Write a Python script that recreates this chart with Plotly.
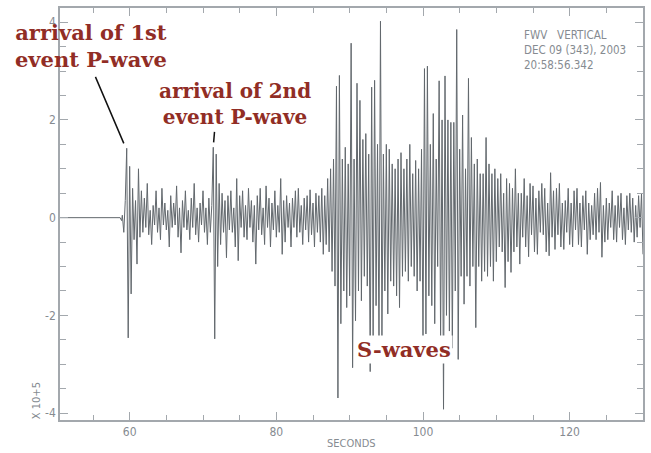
import plotly.graph_objects as go

# ---- data (amplitude in units of 1e5 counts, sampled every 0.2 s from 59.0 s) ----
quiet_t = [50.5, 58.7, 58.9]
quiet_v = [0.0, 0.0, -0.06]

t_start = 59.0
dt = 0.2
amp = [
    0.05, -0.30, 0.35, 1.42, -2.46,   # 59
    1.05, -1.56, 0.60, -0.45, 0.35,   # 60
    -0.95, 1.00, -0.40, 0.55, -0.30,  # 61
    0.40, -0.20, 0.70, -0.35, 0.15,   # 62
    -0.55, 0.25, -0.15, 0.55, -0.30,  # 63
    0.20, -0.45, 0.60, -0.15, 0.30,   # 64
    -0.25, 0.15, -0.60, 0.45, -0.20,  # 65
    0.30, -0.15, 0.65, -0.40, 0.20,   # 66
    -0.72, 0.35, -0.20, 0.55, -0.25,  # 67
    0.15, -0.45, 0.40, -0.20, 0.70,   # 68
    -0.35, 0.20, -0.50, 0.30, -0.15,  # 69
    0.55, -0.30, 0.20, -0.55, 0.40,   # 70
    -0.30, 0.25, 1.44, -2.48, 1.30,   # 71
    -1.00, 0.70, -0.55, 0.50, -0.30,  # 72
    0.35, -0.82, 0.45, -0.25, 0.55,   # 73
    -0.30, 0.20, -0.60, 0.80, -0.88,  # 74
    0.45, -0.20, 0.55, -0.40, 0.25,   # 75
    -0.45, 0.60, -0.20, 0.35, -0.50,  # 76
    0.25, -0.95, 0.45, -0.25, 0.60,   # 77
    -0.35, 0.20, -0.55, 0.65, -0.20,  # 78
    0.40, -0.60, 0.30, -0.25, 0.55,   # 79
    -0.40, 0.25, -0.30, 0.80, -0.75,  # 80
    0.35, -0.50, 0.45, -0.20, 0.30,   # 81
    -0.60, 0.40, -0.20, 0.55, -0.40,  # 82
    0.60, -0.30, 0.25, -0.55, 0.40,   # 83
    -0.25, 0.45, -0.50, 0.57, -0.35,  # 84
    0.30, -0.60, 0.50, -0.30, 0.45,   # 85
    -0.50, 0.60, -0.75, 0.45, -0.55,  # 86
    0.80, -0.70, 1.00, -1.10, 1.20,   # 87
    -1.40, 2.69, -3.69, 2.91, -2.17,  # 88
    1.20, -1.50, 1.44, -1.84, 1.10,   # 89
    -1.60, 3.57, -3.07, 1.20, -2.11,  # 90
    2.75, -1.50, 2.40, -1.70, 1.60,   # 91
    -1.20, 1.72, -1.40, 1.30, -3.15,  # 92
    2.67, -2.46, 2.81, -1.80, 1.50,   # 93
    -2.60, 4.02, -2.46, 1.30, -1.50,  # 94
    1.50, -1.97, 1.40, -1.30, 1.10,   # 95
    -1.40, 1.00, -1.60, 1.20, -1.84,  # 96
    1.33, -1.20, 1.00, -1.10, 1.20,   # 97
    -1.30, 1.50, -1.00, 0.90, -1.20,  # 98
    1.17, -1.50, 1.00, -1.30, 1.40,   # 99
    -2.52, 3.05, -2.38, 3.10, -1.60,  # 100
    1.50, -1.80, 2.13, -2.17, 1.20,   # 101
    -1.00, 2.80, -2.50, 2.00, -3.92,  # 102
    2.90, -2.00, 2.00, -2.32, 1.95,   # 103
    -2.67, 1.95, -1.50, 3.85, -2.90,  # 104
    1.40, -1.20, 2.10, -1.77, 1.00,   # 105
    -1.20, 2.85, -1.40, 1.64, -1.00,  # 106
    1.10, -2.25, 1.20, -1.00, 0.90,   # 107
    -1.30, 0.90, -1.10, 1.64, -1.20,  # 108
    1.10, -1.00, 0.90, -1.30, 1.00,   # 109
    -0.90, 0.80, -0.60, 0.90, -0.70,  # 110
    0.50, -1.43, 0.80, -0.90, 0.70,   # 111
    -1.12, 0.60, -0.70, 1.00, -0.60,  # 112
    0.50, -0.95, 0.50, -0.40, 0.80,   # 113
    -0.60, 0.45, -0.80, 0.70, -0.35,  # 114
    0.65, -0.70, 0.40, -0.75, 0.55,   # 115
    -0.30, 0.70, -0.35, 0.60, -0.70,  # 116
    0.30, -0.78, 0.92, -0.40, 0.55,   # 117
    -0.65, 0.60, -0.35, 0.70, -0.60,  # 118
    0.30, -0.65, 0.35, -0.30, 0.60,   # 119
    -0.55, 0.30, -0.60, 0.55, -0.25,  # 120
    0.60, -0.55, 0.30, -0.60, 0.45,   # 121
    -0.25, 0.55, -0.75, 0.30, -0.45,  # 122
    0.25, -0.35, 0.50, -0.45, 0.60,   # 123
    -0.30, 0.72, -0.81, 0.25, -0.50,  # 124
    0.40, -0.45, 0.30, -0.20, 0.55,   # 125
    -0.45, 0.25, -0.50, 0.45, -0.20,  # 126
    0.50, -0.45, 0.20, -0.55, 0.45,   # 127
    -0.25, 0.50, -0.30, 0.40, -0.50,  # 128
    0.25, -0.40, 0.45, -0.20, 0.50,   # 129
    -0.75,                            # 130
]

x_tickvals = [60, 80, 100, 120]
y_tickvals = [-4, -2, 0, 2, 4]
y_ticktext = ["-4", "-2", "0", "2", "4"]

times = quiet_t + [round(t_start + dt * i, 3) for i in range(len(amp))]
values = quiet_v + amp

AX = "#a3a8ad"
TXT = "#868b91"
RED = "#912d25"
COND = "DejaVu Sans Condensed, Liberation Sans Narrow, Arial Narrow, sans-serif"
SERIF = "DejaVu Serif, serif"

fig = go.Figure()
fig.add_trace(go.Scatter(
    x=times, y=values, mode="lines",
    line=dict(color="#62686d", width=1),
    hoverinfo="skip", showlegend=False,
))

fig.update_layout(
    width=651, height=453,
    margin=dict(l=60, r=6, t=8, b=33),
    paper_bgcolor="white", plot_bgcolor="white",
    showlegend=False,
    xaxis=dict(
        range=[50.5, 130], showgrid=False, zeroline=False,
        showline=True, linecolor=AX, linewidth=1.5, mirror="ticks",
        ticks="inside", ticklen=8, tickcolor=AX, tickwidth=1.2,
        tickvals=x_tickvals,
        tickfont=dict(family=COND, size=12, color=TXT),
        minor=dict(dtick=5, tick0=0, ticks="inside", ticklen=5,
                   tickcolor=AX, tickwidth=1.2, showgrid=False),
    ),
    yaxis=dict(
        range=[-4.14, 4.29], showgrid=False, zeroline=False,
        showline=True, linecolor=AX, linewidth=1.5, mirror="ticks",
        ticks="inside", ticklen=8, tickcolor=AX, tickwidth=1.2,
        tickvals=y_tickvals, ticktext=y_ticktext,
        tickfont=dict(family=COND, size=12, color=TXT),
        minor=dict(dtick=0.5, tick0=0, ticks="inside", ticklen=6,
                   tickcolor=AX, tickwidth=1.2, showgrid=False),
    ),
)

ann = []
ann.append(dict(xref="paper", yref="paper", x=0.5, y=-0.058, text="SECONDS",
                showarrow=False, xanchor="center", yanchor="middle",
                font=dict(family=COND, size=11, color=TXT)))
ann.append(dict(xref="paper", yref="paper", x=-0.041, y=0.046, text="X 10+5",
                showarrow=False, textangle=-90, xanchor="center", yanchor="middle",
                font=dict(family=COND, size=11, color=TXT)))
ann.append(dict(xref="paper", yref="paper", x=0.792, y=0.956,
                text="FWV\u00a0\u00a0\u00a0VERTICAL<br>DEC 09 (343), 2003<br>20:58:56.342",
                showarrow=False, xanchor="left", yanchor="top", align="left",
                font=dict(family=COND, size=11.5, color=TXT)))
# pointer lines
ann.append(dict(xref="x", yref="y", x=59.2, y=1.52, ax=-29, ay=-68, text="",
                showarrow=True, arrowhead=0, arrowwidth=1.5, arrowcolor="#111111"))
ann.append(dict(xref="x", yref="y", x=71.45, y=1.54, ax=1, ay=-12, text="",
                showarrow=True, arrowhead=0, arrowwidth=1.5, arrowcolor="#111111"))
# red labels
ann.append(dict(xref="paper", yref="paper", x=0.053, y=0.908,
                text="<b>arrival of 1st<br>event P-wave</b>",
                showarrow=False, xanchor="center", yanchor="middle",
                font=dict(family=SERIF, size=21, color=RED)))
ann.append(dict(xref="paper", yref="paper", x=0.301, y=0.767,
                text="<b>arrival of 2nd<br>event P-wave</b>",
                showarrow=False, xanchor="center", yanchor="middle",
                font=dict(family=SERIF, size=20, color=RED)))
ann.append(dict(xref="paper", yref="paper", x=0.590, y=0.170,
                text="<b>S-waves</b>", bgcolor="white", borderpad=1,
                showarrow=False, xanchor="center", yanchor="middle",
                font=dict(family=SERIF, size=21, color=RED)))
fig.update_layout(annotations=ann)

fig.write_html("out.html", config={"displayModeBar": False},
               post_script="document.body.style.margin='0';")
